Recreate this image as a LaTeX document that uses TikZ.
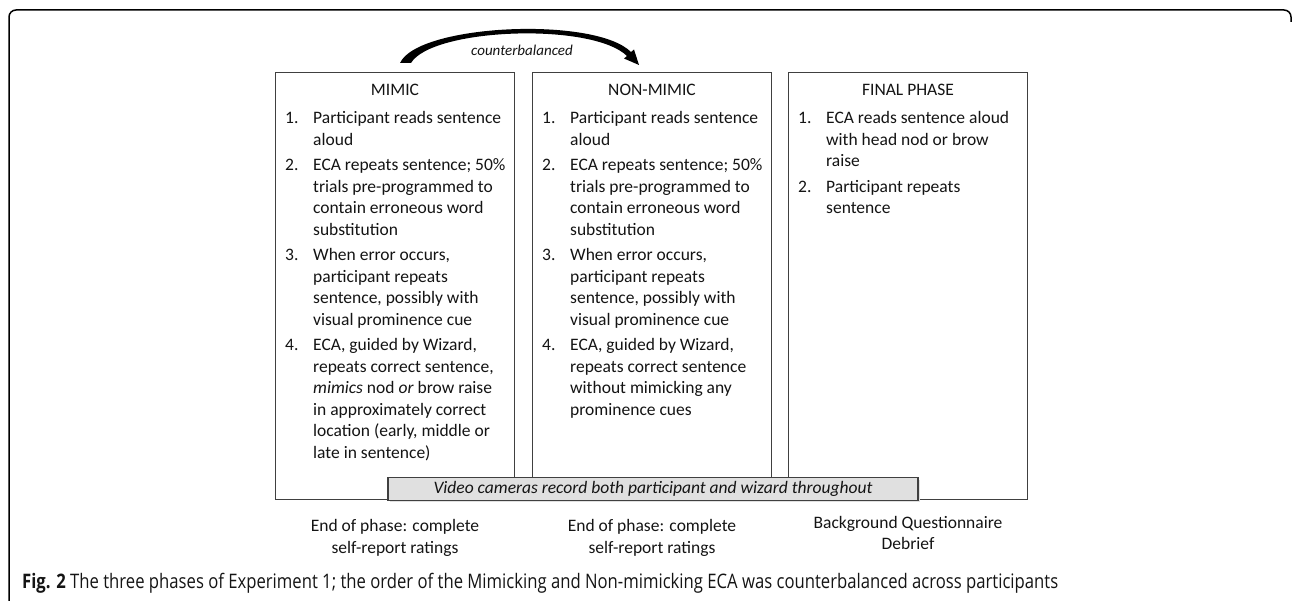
\documentclass[tikz,border=0pt]{standalone}
\usepackage{fontspec}
\setmainfont{Carlito}
\newfontfamily\capfont{Open Sans}
\usetikzlibrary{arrows.meta}
\definecolor{boxline}{HTML}{404040}
\definecolor{bandfill}{HTML}{E0E0E0}
\definecolor{txt}{HTML}{141414}
\newcommand{\bodyfont}{\fontsize{17.5}{21.5}\selectfont}
\begin{document}
\begin{tikzpicture}[x=1pt,y=-1pt,
  phasebox/.style={draw=boxline, line width=1.2pt, fill=white, minimum width=239pt, minimum height=427pt, anchor=north west, inner sep=0pt},
  listtext/.style={inner sep=0pt, anchor=base west, font=\bodyfont, text=txt},
  titletext/.style={inner sep=0pt, font=\bodyfont, text=txt},
  foottext/.style={inner sep=0pt, font=\bodyfont, text=txt, align=center},
  bandbox/.style={draw=boxline, line width=1.2pt, fill=bandfill, minimum width=530pt, minimum height=23pt, inner sep=0pt, font=\bodyfont\itshape, text=txt}
]
\useasboundingbox (0,0) rectangle (1292,601);

% outer frame
\draw[line width=1.5pt, black] (9,601) -- (9,17) arc[start angle=180, end angle=270, radius=7] -- (1284,10) arc[start angle=270, end angle=360, radius=7] -- (1291,22);

% phase boxes
\node[phasebox] (mimic) at (275,72) {};
\node[phasebox] (nonmimic) at (532,72) {};
\node[phasebox] (final) at (788,72) {};

% titles
\node[titletext] (mimictitle) at (395,90) {MIMIC};
\node[titletext] (nonmimictitle) at (652,90) {NON-MIMIC};
\node[titletext] (finaltitle) at (908,90) {FINAL PHASE};

% lists
\node[listtext] (mimiclist) at (285,124) {\begin{tabular}[t]{@{}p{28pt}@{}l@{}}
1. & Participant reads sentence\\
   & aloud\\[4pt]
2. & ECA repeats sentence; 50\%\\
   & trials pre-programmed to\\
   & contain erroneous word\\
   & substitution\\[4pt]
3. & When error occurs,\\
   & participant repeats\\
   & sentence, possibly with\\
   & visual prominence cue\\[4pt]
4. & ECA, guided by Wizard,\\
   & repeats correct sentence,\\
   & \textit{mimics} nod \textit{or} brow raise\\
   & in approximately correct\\
   & location (early, middle or\\
   & late in sentence)
\end{tabular}};

\node[listtext] (nonmimiclist) at (542,124) {\begin{tabular}[t]{@{}p{28pt}@{}l@{}}
1. & Participant reads sentence\\
   & aloud\\[4pt]
2. & ECA repeats sentence; 50\%\\
   & trials pre-programmed to\\
   & contain erroneous word\\
   & substitution\\[4pt]
3. & When error occurs,\\
   & participant repeats\\
   & sentence, possibly with\\
   & visual prominence cue\\[4pt]
4. & ECA, guided by Wizard,\\
   & repeats correct sentence\\
   & without mimicking any\\
   & prominence cues
\end{tabular}};

\node[listtext] (finallist) at (798,124) {\begin{tabular}[t]{@{}p{28pt}@{}l@{}}
1. & ECA reads sentence aloud\\
   & with head nod or brow\\
   & raise\\[4pt]
2. & Participant repeats\\
   & sentence
\end{tabular}};

% band
\fill[black!12] (390,480) rectangle (920,502);
\node[bandbox] (band) at (653,489) {Video cameras record both participant and wizard throughout};

% footer texts
\node[foottext] (mimicend) at (395,538) {End of phase: complete\\self-report ratings};
\node[foottext] (nonmimicend) at (652,538) {End of phase: complete\\self-report ratings};
\node[foottext] (finalend) at (908,533) {Background Questionnaire\\Debrief};

% counterbalanced arrow
\coordinate (arrS) at (405,63);
\coordinate (arrE) at (639,65);
\fill[black] (400,63) .. controls (418,24) and (595,16) .. (631,52) -- (634,49.5) -- (arrE) -- (624,58.5) -- (627,56) .. controls (592,22) and (432,28) .. (411,63) -- cycle;
\node[inner sep=0pt, font=\fontsize{15}{18}\selectfont\itshape, text=txt] (cb) at (522,50) {counterbalanced};

% caption
\node[anchor=west, inner sep=0pt, text=txt] (caption) at (22,583) {\resizebox{1036pt}{\height}{\capfont\fontsize{20}{24}\selectfont\textbf{Fig. 2} The three phases of Experiment 1; the order of the Mimicking and Non-mimicking ECA was counterbalanced across participants}};
\end{tikzpicture}
\end{document}
